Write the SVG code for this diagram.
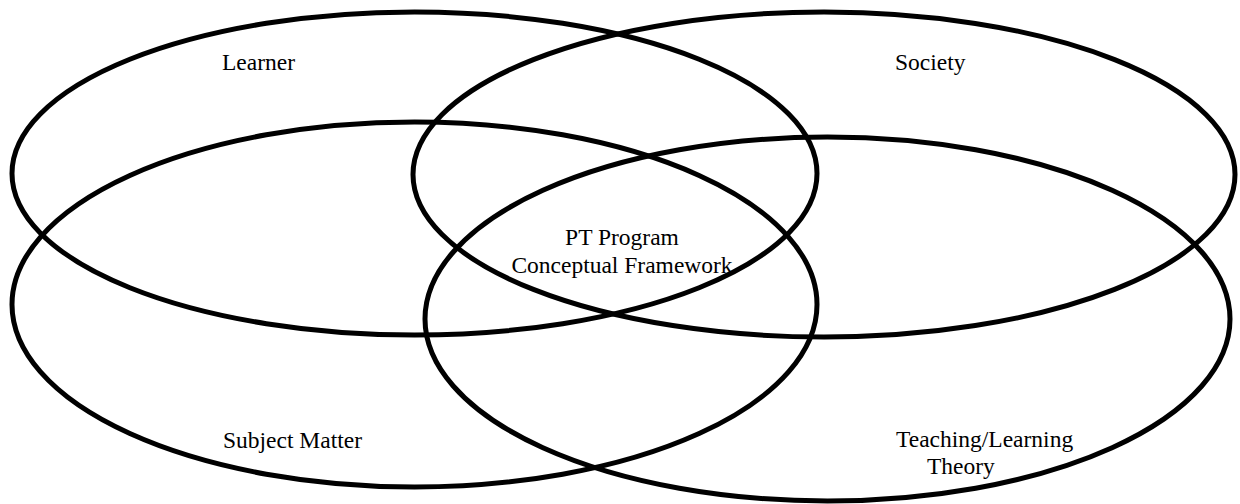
<svg xmlns="http://www.w3.org/2000/svg" width="1240" height="504" viewBox="0 0 1240 504">
<style>
.ov{fill:none;stroke:#000;stroke-width:5}
.t{font-family:"Liberation Serif","Times New Roman",serif;font-size:23.5px;fill:#000}
</style>
<rect width="1240" height="504" fill="#fff"/>
<g id="learner"><ellipse class="ov" cx="414.5" cy="173.5" rx="402.5" ry="161.5"/><text class="t" x="222" y="70">Learner</text></g>
<g id="society"><ellipse class="ov" cx="824" cy="174.5" rx="411" ry="162.5"/><text class="t" x="895" y="70">Society</text></g>
<g id="subject-matter"><ellipse class="ov" cx="414.5" cy="304.5" rx="402.5" ry="182.5"/><text class="t" x="223" y="448">Subject Matter</text></g>
<g id="teaching-learning"><ellipse class="ov" cx="827.5" cy="319" rx="402.5" ry="182"/><text class="t" x="896" y="447">Teaching/Learning</text><text class="t" x="927" y="474">Theory</text></g>
<g id="center"><text class="t" x="622" y="245" text-anchor="middle">PT Program</text><text class="t" x="622" y="273" text-anchor="middle">Conceptual Framework</text></g>
<g id="connectors"></g>
</svg>
